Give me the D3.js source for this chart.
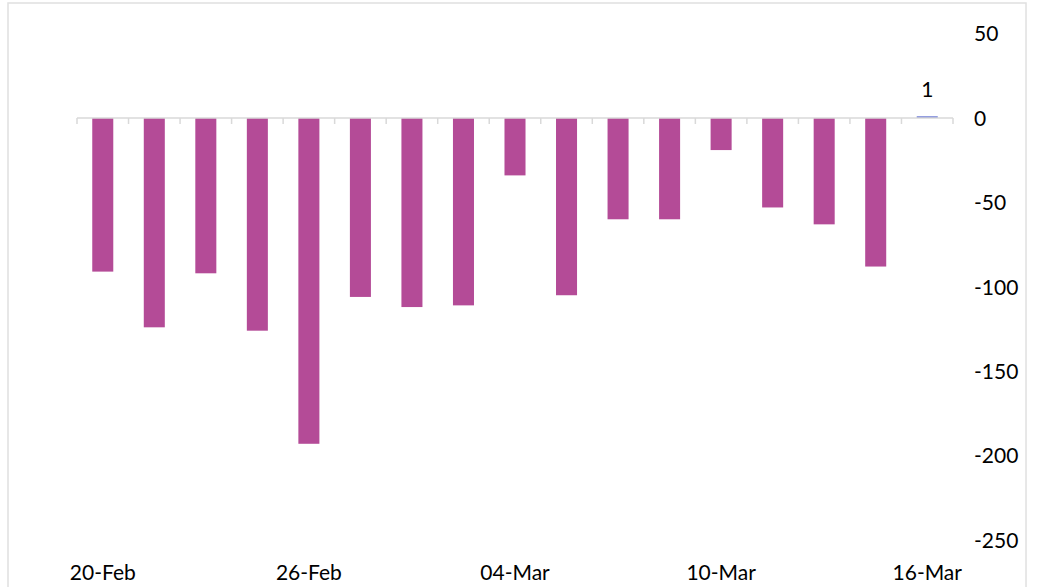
<!DOCTYPE html>
<html>
<head>
<meta charset="utf-8">
<script src="https://cdn.jsdelivr.net/npm/d3@7"></script>
<style>
  html, body { margin: 0; padding: 0; background: #fff; }
  svg { display: block; }
  text { font-family: Lato, "Open Sans", sans-serif; fill: #000; }
</style>
</head>
<body>
<svg id="chart" width="1038" height="587"></svg>
<script>
// Daily change, 20-Feb to 16-Mar
const dates = ["20-Feb", "21-Feb", "22-Feb", "24-Feb", "26-Feb", "27-Feb", "28-Feb", "02-Mar",
               "04-Mar", "06-Mar", "07-Mar", "08-Mar", "10-Mar", "12-Mar", "13-Mar", "15-Mar", "16-Mar"];
const declines  = [-91, -124, -92, -126, -193, -106, -112, -111, -34, -105, -60, -60, -19, -53, -63, -88, null];
const increases = [null, null, null, null, null, null, null, null, null, null, null, null, null, null, null, null, 1];
const yTicks = [50, 0, -50, -100, -150, -200, -250];
const tickEvery = 4;

const fontSize = "21px";
const fmt = v => String(v); // plain hyphen-minus for negatives

const svg = d3.select("#chart");

const x = d3.scaleBand()
  .domain(dates)
  .range([77, 953])
  .paddingInner(0.592)
  .paddingOuter(0.296);

const y = d3.scaleLinear()
  .domain([-250, 50])
  .range([540, 33.6]);

// chart frame
svg.append("rect")
  .attr("x", 8).attr("y", 3)
  .attr("width", 1018).attr("height", 620)
  .attr("fill", "none")
  .attr("stroke", "#e0e0e0")
  .attr("stroke-width", 1.5);

// value axis on the right, labels only
const yAxis = d3.axisRight(y).tickValues(yTicks).tickFormat(fmt).tickSize(0).tickPadding(0);
const gy = svg.append("g").attr("transform", "translate(974,0)").call(yAxis);
gy.select(".domain").remove();
gy.selectAll("text")
  .attr("x", 0)
  .attr("dy", "0.35em")
  .style("font-size", fontSize)
  .style("font-family", "Lato, 'Open Sans', sans-serif")
  .style("fill", "#000")
  .attr("text-anchor", "start");

// bars
const barGroup = svg.append("g");
barGroup.selectAll("rect.dec")
  .data(dates.map((d, i) => ({ d, v: declines[i] })).filter(o => o.v != null))
  .join("rect")
  .attr("class", "dec")
  .attr("x", o => x(o.d))
  .attr("width", x.bandwidth())
  .attr("y", o => y(Math.max(0, o.v)))
  .attr("height", o => Math.abs(y(o.v) - y(0)))
  .attr("fill", "#b44b97");

barGroup.selectAll("rect.inc")
  .data(dates.map((d, i) => ({ d, v: increases[i] })).filter(o => o.v != null))
  .join("rect")
  .attr("class", "inc")
  .attr("x", o => x(o.d))
  .attr("width", x.bandwidth())
  .attr("y", o => y(o.v))
  .attr("height", o => Math.abs(y(o.v) - y(0)))
  .attr("fill", "#6473d3");

// data label for the increase
svg.selectAll("text.lbl")
  .data(dates.map((d, i) => ({ d, v: increases[i] })).filter(o => o.v != null))
  .join("text")
  .attr("class", "lbl")
  .attr("x", o => x(o.d) + x.bandwidth() / 2)
  .attr("y", o => y(o.v) - 19)
  .attr("text-anchor", "middle")
  .style("font-size", fontSize)
  .text(o => fmt(o.v));

// category axis along zero
const step = x.step();
const x0 = x.range()[0];
const gx = svg.append("g");
gx.append("line")
  .attr("x1", x0).attr("x2", x.range()[1])
  .attr("y1", y(0)).attr("y2", y(0))
  .attr("stroke", "#d9d9d9").attr("stroke-width", 1.5);
gx.selectAll("line.tick")
  .data(d3.range(dates.length + 1))
  .join("line")
  .attr("class", "tick")
  .attr("x1", i => x0 + i * step).attr("x2", i => x0 + i * step)
  .attr("y1", y(0)).attr("y2", y(0) + 6)
  .attr("stroke", "#d9d9d9").attr("stroke-width", 1.5);

// date labels along the bottom
svg.selectAll("text.date")
  .data(dates.filter((d, i) => i % tickEvery === 0))
  .join("text")
  .attr("class", "date")
  .attr("x", d => x(d) + x.bandwidth() / 2)
  .attr("y", 580)
  .attr("text-anchor", "middle")
  .style("font-size", fontSize)
  .text(d => d);
</script>
</body>
</html>
